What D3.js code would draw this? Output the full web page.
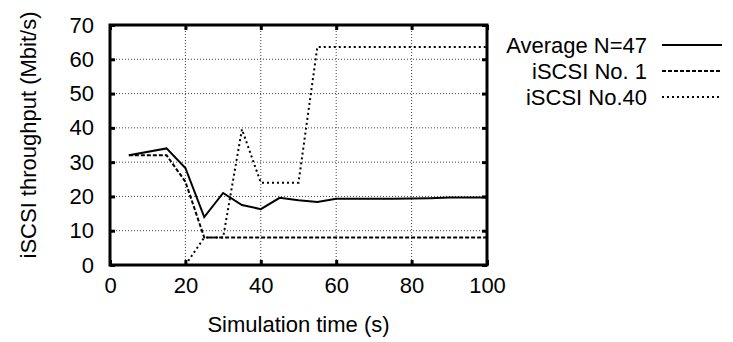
<!DOCTYPE html>
<html>
<head>
<meta charset="utf-8">
<script src="https://cdn.jsdelivr.net/npm/d3@7/dist/d3.min.js"></script>
<style>
  body { margin: 0; background: #fff; }
  svg text { font-family: "Liberation Sans", Arial, sans-serif; font-size: 22px; fill: #000; }
</style>
</head>
<body>
<div id="chart"></div>
<script>
// simulation time (s) and throughput (Mbit/s)
const averageData = [
  [5, 32], [15, 34], [20, 28.3], [25, 14], [30, 21], [35, 17.5], [40, 16.3],
  [45, 19.6], [50, 18.9], [55, 18.4], [60, 19.3], [65, 19.3], [70, 19.3],
  [75, 19.3], [80, 19.4], [85, 19.5], [90, 19.7], [95, 19.7], [100, 19.7]
];
const iscsi1Data = [
  [5, 32], [15, 32], [20, 24.3], [25, 8], [30, 8], [40, 8], [60, 8], [80, 8], [100, 8]
];
const iscsi40Data = [
  [20, 0], [25, 8], [30, 8], [35, 39.6], [40, 24], [45, 24], [50, 24],
  [55, 63.6], [60, 63.6], [80, 63.6], [100, 63.6]
];
const xTicks = [0, 20, 40, 60, 80, 100];
const yTicks = [0, 10, 20, 30, 40, 50, 60, 70];
const seriesNames = ['Average N=47', 'iSCSI No. 1', 'iSCSI No.40'];

const dashes = { solid: null, dashed: '4,2', dotted: '2,3' };
const series = [
  { name: seriesNames[0], data: averageData, dash: dashes.solid },
  { name: seriesNames[1], data: iscsi1Data, dash: dashes.dashed },
  { name: seriesNames[2], data: iscsi40Data, dash: dashes.dotted }
];

const width = 733, height = 342;
const plot = { left: 110, right: 487, top: 25, bottom: 265 };

const svg = d3.select('#chart').append('svg')
  .attr('width', width)
  .attr('height', height);

const x = d3.scaleLinear().domain([0, 100]).range([plot.left, plot.right]);
const y = d3.scaleLinear().domain([0, 70]).range([plot.bottom, plot.top]);

// grid
const grid = svg.append('g').attr('class', 'grid');
grid.selectAll('line.gx')
  .data(xTicks.slice(1, -1))
  .enter().append('line')
  .attr('x1', d => x(d)).attr('x2', d => x(d))
  .attr('y1', plot.top).attr('y2', plot.bottom);
grid.selectAll('line.gy')
  .data(yTicks.slice(1, -1))
  .enter().append('line')
  .attr('x1', plot.left).attr('x2', plot.right)
  .attr('y1', d => y(d)).attr('y2', d => y(d));
grid.selectAll('line')
  .attr('stroke', '#444')
  .attr('stroke-width', 1)
  .attr('stroke-dasharray', '1,2');

// axes (ticks pointing inward, mirrored on all sides)
const tickLen = 5;
function styleAxis(g) {
  g.select('.domain').remove();
  g.selectAll('.tick line').attr('stroke', '#000').attr('stroke-width', 3);
  g.selectAll('.tick text').style('font-size', '22px').attr('fill', '#000');
}

svg.append('g')
  .attr('transform', `translate(0,${plot.bottom})`)
  .call(d3.axisBottom(x).tickValues(xTicks).tickSize(-tickLen).tickFormat(d3.format('d')))
  .call(styleAxis)
  .call(g => g.selectAll('.tick text').attr('y', 12).attr('dy', '0.71em'));

svg.append('g')
  .attr('transform', `translate(0,${plot.top})`)
  .call(d3.axisTop(x).tickValues(xTicks).tickSize(-tickLen).tickFormat(''))
  .call(styleAxis);

svg.append('g')
  .attr('transform', `translate(${plot.left},0)`)
  .call(d3.axisLeft(y).tickValues(yTicks).tickSize(-tickLen).tickPadding(16).tickFormat(d3.format('d')))
  .call(styleAxis);

svg.append('g')
  .attr('transform', `translate(${plot.right},0)`)
  .call(d3.axisRight(y).tickValues(yTicks).tickSize(-tickLen).tickFormat(''))
  .call(styleAxis);

// lines
const line = d3.line().x(d => x(d[0])).y(d => y(d[1]));
svg.append('g').selectAll('path')
  .data(series)
  .enter().append('path')
  .attr('d', d => line(d.data))
  .attr('fill', 'none')
  .attr('stroke', '#000')
  .attr('stroke-width', 2)
  .attr('stroke-dasharray', d => d.dash);

// frame
svg.append('rect')
  .attr('x', plot.left).attr('y', plot.top)
  .attr('width', plot.right - plot.left)
  .attr('height', plot.bottom - plot.top)
  .attr('fill', 'none')
  .attr('stroke', '#000')
  .attr('stroke-width', 3);

// axis titles
svg.append('text')
  .attr('x', (plot.left + plot.right) / 2)
  .attr('y', 332)
  .attr('text-anchor', 'middle')
  .text('Simulation time (s)');

svg.append('text')
  .attr('transform', 'translate(36,135) rotate(-90)')
  .attr('text-anchor', 'middle')
  .text('iSCSI throughput (Mbit/s)');

// legend
const legend = svg.append('g').selectAll('g')
  .data(series)
  .enter().append('g')
  .attr('transform', (d, i) => `translate(0,${45 + i * 26})`);
legend.append('text')
  .attr('x', 647)
  .attr('y', 0)
  .attr('dy', '0.35em')
  .attr('text-anchor', 'end')
  .text(d => d.name);
legend.append('line')
  .attr('x1', 662).attr('x2', 722)
  .attr('y1', 0).attr('y2', 0)
  .attr('stroke', '#000')
  .attr('stroke-width', 2)
  .attr('stroke-dasharray', d => d.dash);
</script>
</body>
</html>
